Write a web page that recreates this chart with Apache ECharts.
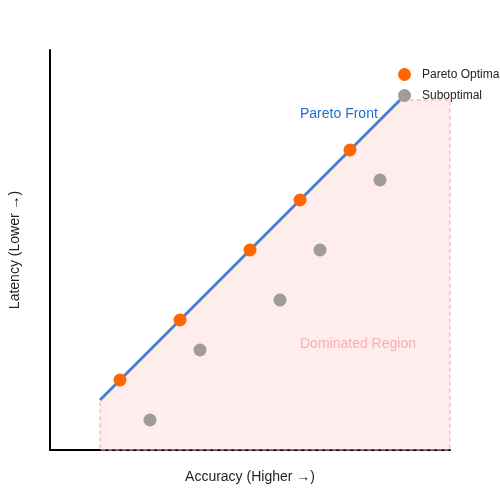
<!DOCTYPE html>
<html><head><meta charset="utf-8">
<script src="https://cdn.jsdelivr.net/npm/echarts@6/dist/echarts.min.js"></script>
</head><body style="margin:0">
<div id="c" style="width:500px;height:500px"></div>
<script>
var paretoPts = [[1.4,1.4],[2.6,2.6],[4,4],[5,5],[6,6]];
var subPts = [[2,0.6],[3,2],[4.6,3],[5.4,4],[6.6,5.4]];
var frontLine = [[1,1],[7,7]];
var regionPoly = [[1,1],[7,7],[8,7],[8,0],[1,0]];
var F = 'Liberation Sans, Arial, sans-serif';
var chart = echarts.init(document.getElementById('c'));
chart.setOption({
  animation:false,
  grid:{left:50,right:50,top:50,bottom:50},
  xAxis:{type:'value',min:0,max:8,splitLine:{show:false},axisTick:{show:false},axisLabel:{show:false},
    axisLine:{lineStyle:{color:'#000',width:2}},name:'Accuracy (Higher →)',nameLocation:'middle',nameGap:20,
    nameTextStyle:{fontSize:14,color:'#222',fontFamily:F}},
  yAxis:{type:'value',min:0,max:8,splitLine:{show:false},axisTick:{show:false},axisLabel:{show:false},
    axisLine:{show:true,lineStyle:{color:'#000',width:2}},name:'Latency (Lower →)',nameLocation:'middle',nameGap:28,
    nameTextStyle:{fontSize:14,color:'#222',fontFamily:F}},
  legend:{data:['Pareto Optimal','Suboptimal'],orient:'vertical',left:393,top:63,itemGap:8,icon:'circle',itemWidth:13,itemHeight:13,
    textStyle:{fontSize:12,color:'#222',fontFamily:F,padding:[0,0,0,6]}},
  series:[
    {type:'custom',silent:true,z:1,renderItem:function(params,api){
      var pts = regionPoly.map(function(p){return api.coord(p);});
      return {type:'polygon',shape:{points:pts},style:{fill:'rgba(255,200,200,0.35)',stroke:'#f4a0a8',lineDash:[4,3],lineWidth:1}};
    },data:[[0,0]]},
    {type:'line',data:frontLine,symbol:'none',z:2,lineStyle:{color:'#4a7fd4',width:3}},
    {name:'Pareto Optimal',type:'scatter',data:paretoPts,symbolSize:13,z:3,itemStyle:{color:'#ff6600',opacity:1}},
    {name:'Suboptimal',type:'scatter',data:subPts,symbolSize:13,z:3,itemStyle:{color:'#a09a9a',opacity:1}}
  ],
  graphic:[
    {type:'text',left:300,top:107,style:{text:'Pareto Front',fill:'#1a6fd0',fontSize:14,fontFamily:F}},
    {type:'text',left:300,top:337,style:{text:'Dominated Region',fill:'#f4a0a8',fontSize:14,fontFamily:F}}
  ]
});
</script></body></html>
